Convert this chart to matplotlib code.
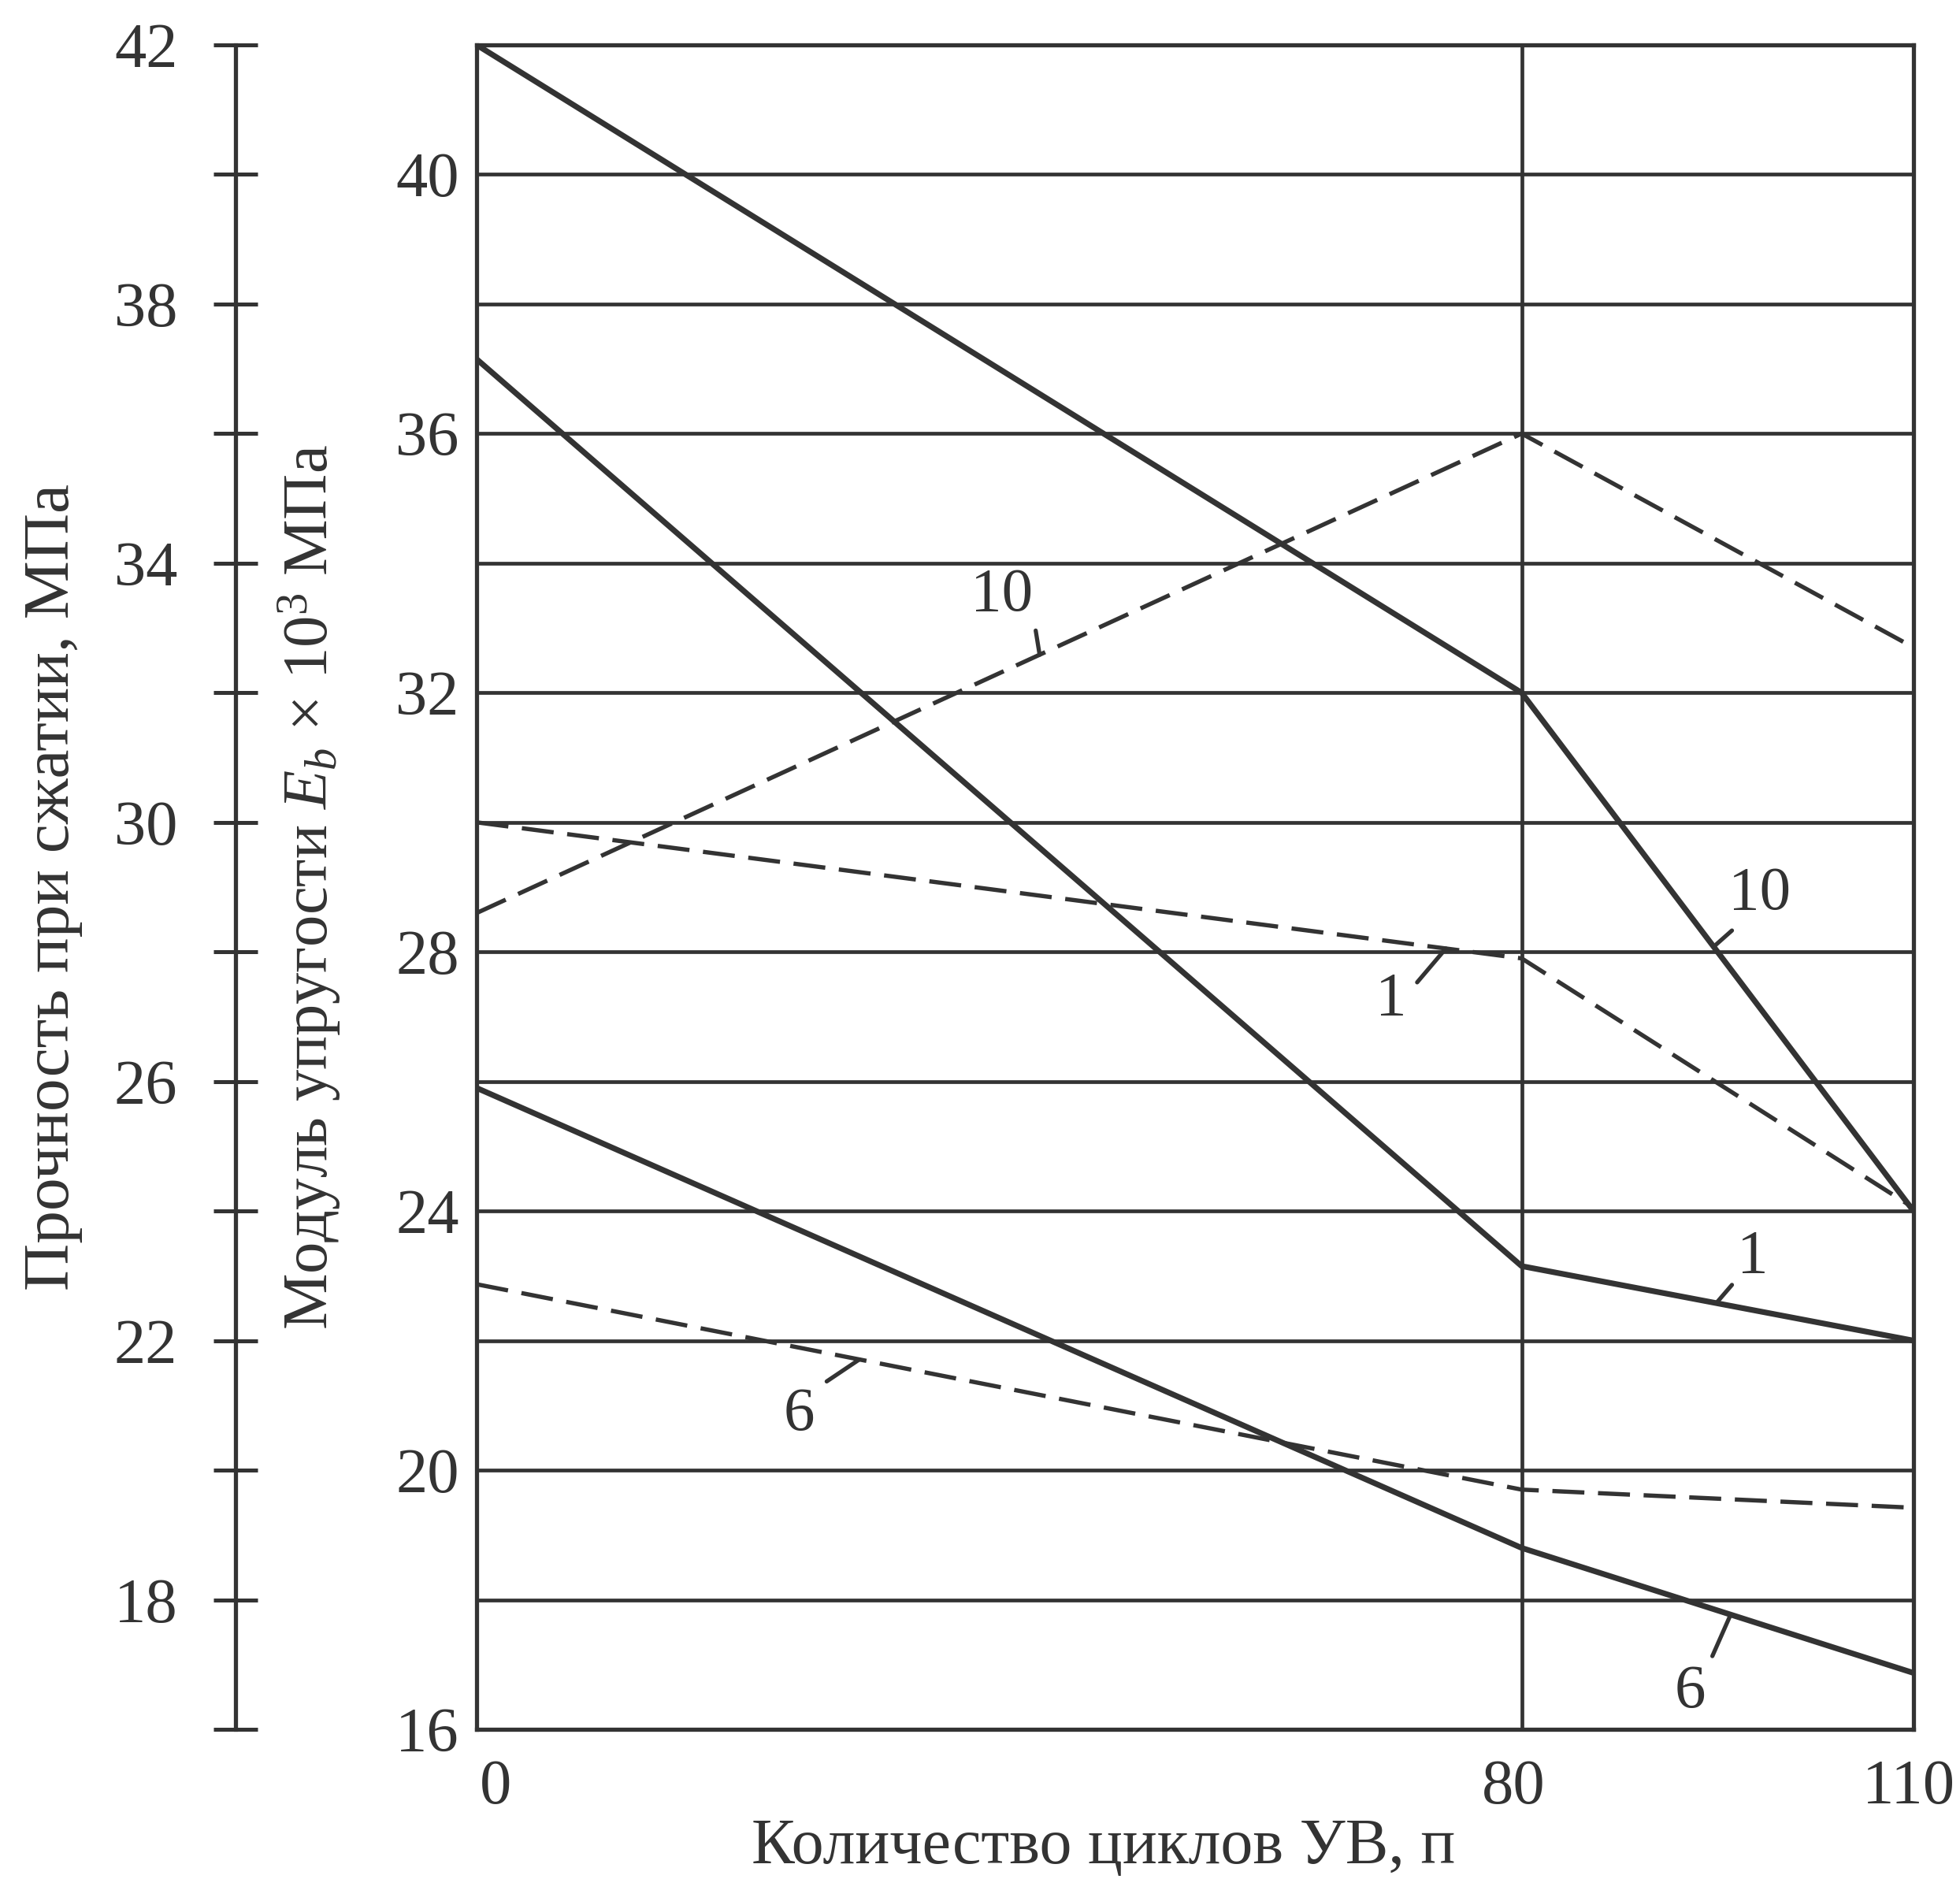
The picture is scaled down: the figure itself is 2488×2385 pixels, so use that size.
import numpy as np
import matplotlib
matplotlib.use('Agg')
import matplotlib.pyplot as plt

plt.rcParams['font.family'] = ['Liberation Serif', 'DejaVu Serif']
plt.rcParams['mathtext.fontset'] = 'custom'
plt.rcParams['mathtext.rm'] = 'Liberation Serif'
plt.rcParams['mathtext.it'] = 'Liberation Serif:italic'

# ---------------- data ----------------
cycles = [0, 80, 110]
solid_10 = [42.0, 32.0, 24.0]
solid_1 = [37.15, 23.15, 22.0]
solid_6 = [25.9, 18.8, 16.87]
dashed_10 = [28.6, 36.0, 32.7]
dashed_1 = [30.0, 27.9, 24.05]
dashed_6 = [22.87, 19.7, 19.42]

x_ticks = [0, 80, 110]
x_tick_labels = ['0', '80', '110']
inner_ticks = [16, 20, 24, 28, 32, 36, 40]
inner_tick_labels = ['16', '20', '24', '28', '32', '36', '40']
outer_ticks = [16, 18, 20, 22, 24, 26, 28, 30, 32, 34, 36, 38, 40, 42]
outer_tick_labels = ['', '18', '', '22', '', '26', '', '30', '', '34', '', '38', '', '42']
grid_values = [18, 20, 22, 24, 26, 28, 30, 32, 34, 36, 38, 40]
vertical_grid = [80]

xlabel = 'Количество циклов УВ, п'
outer_ylabel = 'Прочность при сжатии, МПа'
inner_ylabel = 'Модуль упругости $E_b$ × 10$^3$ МПа'

# ---------------- style ----------------
C = '#333333'
W, H, DPI = 2488, 2385, 100
fig = plt.figure(figsize=(W / DPI, H / DPI), dpi=DPI, facecolor='white')

ax_left, ax_right, ax_top, ax_bottom = 605, 2429, 57, 2195
ax = fig.add_axes([ax_left / W, 1 - ax_bottom / H,
                   (ax_right - ax_left) / W, (ax_bottom - ax_top) / H])
ax.set_xlim(0, 110)
ax.set_ylim(16, 42)

for g in grid_values:
    ax.axhline(g, color=C, lw=3.4, zorder=1)
for g in vertical_grid:
    ax.axvline(g, color=C, lw=3.4, zorder=1)

for s in ax.spines.values():
    s.set_color(C)
    s.set_linewidth(3.8)

solid_style = dict(color=C, lw=5.2, solid_capstyle='butt', zorder=3)
dash_style = dict(color=C, lw=3.9, linestyle=(0, (7.5, 3.2)), zorder=3)
series = {
    's10': (solid_10, solid_style), 's1': (solid_1, solid_style), 's6': (solid_6, solid_style),
    'd10': (dashed_10, dash_style), 'd1': (dashed_1, dash_style), 'd6': (dashed_6, dash_style),
}
for key, (vals, st) in series.items():
    ax.plot(cycles, vals, **st)

# curve labels: (text, series key, text x, text y, leader start x, leader start y, leader end x)
curve_labels = [
    ('10', 'd10', 40.2, 33.5, 42.8, 32.96, 43.1),
    ('1', 'd1', 70.0, 27.26, 72.0, 27.53, 74.2),
    ('6', 'd6', 24.7, 20.85, 26.8, 21.37, 29.3),
    ('10', 's10', 98.2, 28.89, 96.1, 28.33, 94.7),
    ('1', 's1', 97.7, 23.28, 96.1, 22.86, 94.9),
    ('6', 's6', 92.9, 16.57, 94.6, 17.13, 96.0),
]
for txt, key, tx, ty, lx, ly, ex in curve_labels:
    vals = series[key][0]
    ey = np.interp(ex, cycles, vals)
    ax.text(tx, ty, txt, fontsize=57, color=C, ha='center', va='center', zorder=4)
    ax.plot([lx, ex], [ly, ey], color=C, lw=3.8, solid_capstyle='round', zorder=4)

# inner y axis labels (no tick marks)
ax.set_yticks(inner_ticks)
ax.set_yticklabels(inner_tick_labels)
ax.tick_params(axis='y', length=0, pad=16, labelsize=58, labelcolor=C)
ax.set_xticks([])

x_offsets = {0: 24, 80: -10, 110: -6}
for xv, lab in zip(x_ticks, x_tick_labels):
    ax.annotate(lab, xy=(xv, 0), xycoords=('data', 'axes fraction'),
                xytext=(x_offsets[xv] * 0.72, -68), textcoords='offset points',
                ha='center', va='baseline', fontsize=58, color=C)

# outer y axis
ax2 = ax.twinx()
ax2.set_ylim(16, 42)
for k in ['right', 'top', 'bottom']:
    ax2.spines[k].set_visible(False)
ax2.spines['left'].set_visible(True)
ax2.spines['left'].set_position(('axes', (299 - ax_left) / (ax_right - ax_left)))
ax2.spines['left'].set_color(C)
ax2.spines['left'].set_linewidth(3.8)
ax2.yaxis.set_ticks_position('left')
ax2.set_yticks(outer_ticks)
ax2.set_yticklabels(outer_tick_labels)
ax2.tick_params(axis='y', direction='inout', length=40, width=3.6, color=C,
                pad=33, labelsize=58, labelcolor=C)

# axis titles
yc = 1 - ((ax_top + ax_bottom) / 2) / H
fig.text(67 / W, yc, outer_ylabel, rotation=90, ha='center', va='center',
         fontsize=60, color=C)
fig.text(393 / W, yc, inner_ylabel, rotation=90, ha='center', va='center',
         fontsize=58, color=C)
fig.text(1401 / W, 1 - 2345 / H, xlabel, ha='center', va='center',
         fontsize=59, color=C)

fig.savefig('out.png', dpi=DPI, facecolor='white')
